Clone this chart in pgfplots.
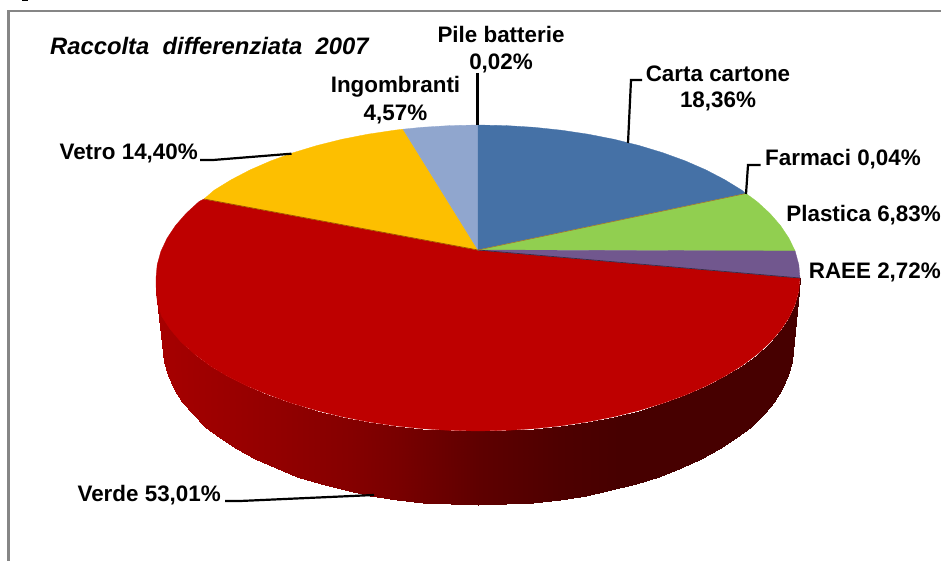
\documentclass[border=0pt]{standalone}
\usepackage{pgfplots}
\pgfplotsset{compat=1.18}
\usepackage{fontspec}
\setmainfont{Liberation Sans}
\definecolor{cblue}{HTML}{4571A6}
\definecolor{cgreen}{HTML}{91CF50}
\definecolor{cpurple}{HTML}{71578E}
\definecolor{cred}{HTML}{BE0000}
\definecolor{cyellow}{HTML}{FDBF00}
\definecolor{clight}{HTML}{90A6CE}
\definecolor{cframe}{HTML}{868686}
\newcommand{\lab}[1]{{\fontsize{22.4}{26}\selectfont\bfseries #1}}
\begin{document}
\begin{tikzpicture}
\begin{axis}[
  scale only axis, width=941pt, height=561pt,
  xmin=0, xmax=941, ymin=0, ymax=561, y dir=reverse,
  hide axis, clip=true,
  colormap={side}{rgb255(160pt)=(166,0,0) rgb255(250pt)=(151,0,0) rgb255(350pt)=(133,0,0) rgb255(400pt)=(120,0,0) rgb255(480pt)=(94,0,0) rgb255(560pt)=(78,0,0) rgb255(620pt)=(71,0,0) rgb255(800pt)=(71,0,0)},
  point meta min=160, point meta max=800,
]
\path[use as bounding box] (axis cs:0,0) rectangle (axis cs:941,561);
% frame
\addplot[cframe, line width=2.6pt] coordinates {(941,11) (8.5,11) (8.5,561)};
\addplot[black, line width=1.5pt] coordinates {(22,0.5) (28,0.5)};
% side of the pie: upper rim and lower rim
\addplot[surf, shader=interp, mesh/cols=37, point meta=x] table {
x y
156 278
156.2 291
157.5 304
161.5 316
170 329
181 342
195 354.5
210 365.8
227 376
247 386
268 394.5
291 403
317 410.5
341.9 416.7
367.9 421.8
394.7 425.8
422.1 428.7
449.9 430.4
478 431
506.1 430.4
533.9 428.7
561.3 425.8
588.1 421.8
614.1 416.7
639 410.5
662.7 403.3
685 395.2
705.7 386.2
724.7 376.3
741.8 365.8
756.9 354.5
769.8 342.7
780.6 330.3
789 317.6
795.1 304.6
798.8 291.3
800 278
163 348
164.2 361.7
167.8 375.3
173.7 388.6
182 401.7
192.5 414.3
205.2 426.5
220 438.1
236.7 448.9
255.3 459
275.5 468.3
297.3 476.6
320.5 484
344.9 490.3
370.3 495.5
396.5 499.6
423.3 502.6
450.5 504.4
478 505
505.5 504.4
532.7 502.6
559.5 499.6
585.7 495.5
611.1 490.3
635.5 484
658.7 476.6
680.5 468.3
700.7 459
719.3 448.9
736 438.1
750.8 426.5
763.5 414.3
774 401.7
782.3 388.6
788.2 375.3
791.8 361.7
793 348
};
% Verde
\addplot[fill=cred, draw=cred, line width=0.3pt] coordinates {
(478,250) (800,278) (798.8,291.3) (795.1,304.6) (789,317.6) (780.6,330.3) (769.8,342.7) (756.9,354.5) (741.8,365.8) (724.7,376.3) (705.7,386.2) (685,395.2) (662.7,403.3) (639,410.5) (614.1,416.7) (588.1,421.8) (561.3,425.8) (533.9,428.7) (506.1,430.4) (478,431) (449.9,430.4) (422.1,428.7) (394.7,425.8) (367.9,421.8) (341.9,416.7) (317,410.5) (291,403) (268,394.5) (247,386) (227,376) (210,365.8) (195,354.5) (181,342) (170,329) (161.5,316) (157.5,304) (156.2,291) (156,278) (157.2,264.7) (160.9,251.4) (167,238.4) (175.4,225.7) (186.2,213.3) (199.1,201.5) (204,199)
} -- cycle;
% Vetro
\addplot[fill=cyellow, draw=cyellow, line width=0.3pt] coordinates {
(478,250) (204,199) (214.2,190.2) (231.3,179.7) (250.3,169.8) (271,160.8) (293.3,152.7) (317,145.5) (341.9,139.3) (367.9,134.2) (394.7,130.2) (403,129.2)
} -- cycle;
% Ingombranti
\addplot[fill=clight, draw=clight, line width=0.3pt] coordinates {
(478,250) (403,129.2) (422.1,127.3) (449.9,125.6) (478,125)
} -- cycle;
% Carta cartone
\addplot[fill=cblue, draw=cblue, line width=0.3pt] coordinates {
(478,250) (478,125) (506.1,125.6) (533.9,127.3) (561.3,130.2) (588.1,134.2) (614.1,139.3) (639,145.5) (662.7,152.7) (685,160.8) (705.7,169.8) (724.7,179.7) (741.8,190.2) (746,193.5)
} -- cycle;
% Plastica
\addplot[fill=cgreen, draw=cgreen, line width=0.3pt] coordinates {
(478,250) (746,193.5) (756.9,201.5) (769.8,213.3) (780.6,225.7) (789,238.4) (795.1,251)
} -- cycle;
% RAEE
\addplot[fill=cpurple, draw=cpurple, line width=0.3pt] coordinates {
(478,250) (795.1,251) (798.8,264.7) (800,278)
} -- cycle;
% slice seams
\addplot[color=black!50!cred!60!cyellow, line width=0.7pt] coordinates {(478,250) (204,199)};
\addplot[color=black!50!cpurple, line width=0.7pt] coordinates {(478,250) (800,278)};
\addplot[color=cred!50!cgreen, line width=0.5pt] coordinates {(478,250) (746,193.5)};
% leaders
\addplot[black, line width=2.2pt] coordinates {(477.5,73) (477.5,125)};
\addplot[black, line width=2.2pt] coordinates {(642,80) (631,80) (628,143)};
\addplot[black, line width=2.2pt] coordinates {(760.5,165) (748,165) (746,194)};
\addplot[black, line width=2.2pt] coordinates {(200,160) (213,160) (291.5,153.7)};
\addplot[black, line width=2.2pt] coordinates {(225,501) (240,501) (374,495)};
% text
\node[anchor=west, inner sep=0pt] at (axis cs:50,46) {{\fontsize{23.8}{27}\selectfont\bfseries\itshape Raccolta\ \ differenziata\ \ 2007}};
\node[inner sep=0pt] at (axis cs:501,34) {\lab{Pile batterie}};
\node[inner sep=0pt] at (axis cs:501,63) {\lab{0,02\%}};
\node[inner sep=0pt] at (axis cs:395.5,86.5) {\lab{Ingombranti}};
\node[inner sep=0pt] at (axis cs:395.5,114) {\lab{4,57\%}};
\node[inner sep=0pt] at (axis cs:718,74) {\lab{Carta cartone}};
\node[inner sep=0pt] at (axis cs:718,101) {\lab{18,36\%}};
\node[anchor=east, inner sep=0pt] at (axis cs:921,159) {\lab{Farmaci 0,04\%}};
\node[anchor=east, inner sep=0pt] at (axis cs:941,215) {\lab{Plastica 6,83\%}};
\node[anchor=east, inner sep=0pt] at (axis cs:941,272) {\lab{RAEE 2,72\%}};
\node[anchor=east, inner sep=0pt] at (axis cs:198,153) {\lab{Vetro 14,40\%}};
\node[anchor=east, inner sep=0pt] at (axis cs:221,495) {\lab{Verde 53,01\%}};
\end{axis}
\end{tikzpicture}
\end{document}
